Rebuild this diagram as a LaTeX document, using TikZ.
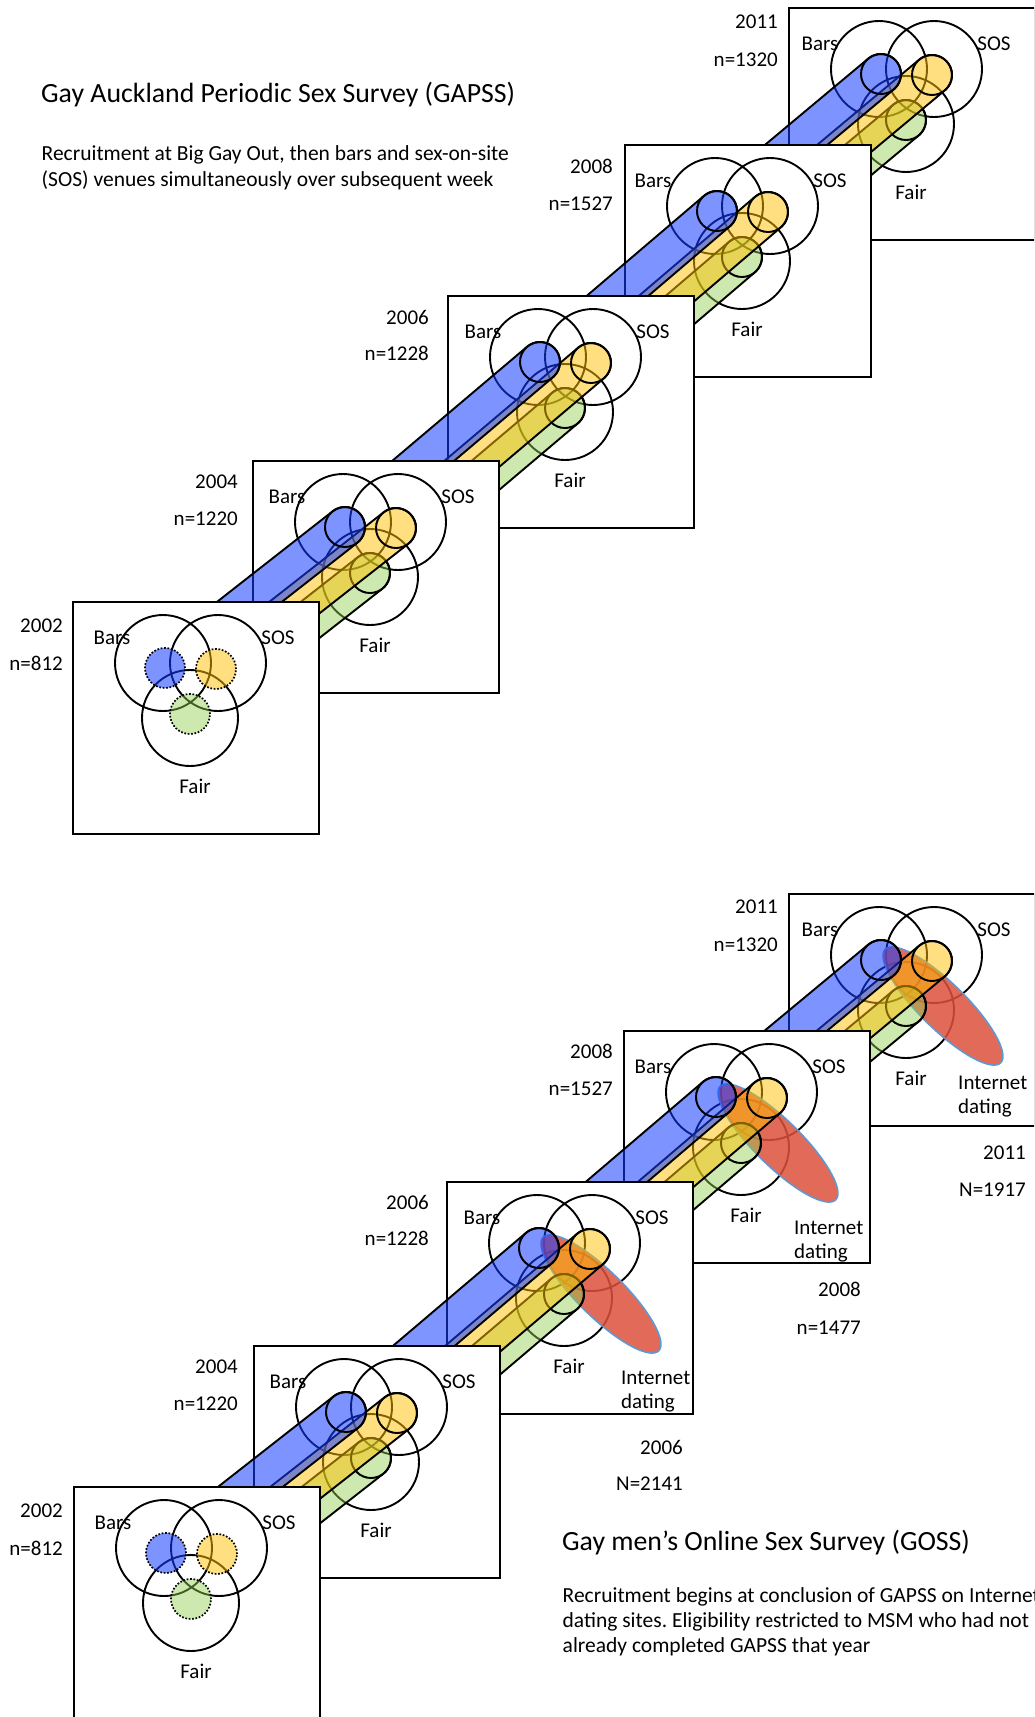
\documentclass[tikz,border=0pt]{standalone}
\usepackage{fontspec}
\setmainfont{Carlito}
\usetikzlibrary{calc}
\frenchspacing
\definecolor{bluec}{RGB}{20,60,255}
\definecolor{yelc}{RGB}{255,192,0}
\definecolor{grnc}{RGB}{146,208,80}
\definecolor{redc}{RGB}{220,80,60}
\definecolor{inetline}{RGB}{91,155,213}
\tikzset{
  boxline/.style={draw=black, line width=2.3pt, fill=white},
  venn/.style={draw=black, line width=1.9pt},
  dotc/.style={draw=black, line width=1.7pt, dash pattern=on 1.7pt off 1.7pt},
  tubeb/.style={fill=bluec, fill opacity=0.55, draw=black, line width=1.9pt},
  tubey/.style={fill=yelc, fill opacity=0.5, draw=black, line width=1.9pt},
  tubeg/.style={fill=grnc, fill opacity=0.45, draw=black, line width=1.9pt},
  inet/.style={fill=redc, fill opacity=0.85, draw=inetline, line width=1.5pt},
  lab/.style={inner sep=0pt, font=\fontsize{21}{25}\selectfont},
  ttl/.style={inner sep=0pt, anchor=base west, font=\fontsize{27.8}{33}\selectfont},
  bdy/.style={inner sep=0pt, anchor=base west, font=\fontsize{21.5}{25}\selectfont},
}
\newcommand\mkco[3]{%
  \coordinate (#1b) at (#2+92,#3+66);
  \coordinate (#1o) at (#2+143,#3+67);
  \coordinate (#1g) at (#2+117,#3+112);
}
% #5: 0 plain, 1 with internet ellipse, 2 filled dotted circles (first year)
\newcommand\yrbox[5]{%
  \begin{scope}[shift={(#2,#3)}]
    \path[boxline] (0,0) rectangle (246,232);
    \draw[venn] (90,61) circle[radius=48pt] (145,61) circle[radius=48pt] (117,116) circle[radius=48pt];
    \ifnum#5=1
      \draw[inet, rotate around={-44.5:(154,112)}] (154,112) ellipse[x radius=81pt, y radius=23pt];
    \fi
    \ifnum#5=2
      \draw[dotc, fill=bluec, fill opacity=.55] (92,66) circle[radius=20pt];
      \draw[dotc, fill=yelc, fill opacity=.5] (143,67) circle[radius=20pt];
      \draw[dotc, fill=grnc, fill opacity=.45] (117,112) circle[radius=20pt];
    \else
      \draw[dotc] (92,66) circle[radius=20pt] (143,67) circle[radius=20pt] (117,112) circle[radius=20pt];
    \fi
    \node[lab, anchor=base] (#1bars) at (#4,42) {Bars};
    \node[lab, anchor=base] (#1sos) at (205,42) {SOS};
    \node[lab, anchor=base] (#1fair) at (122,191) {Fair};
  \end{scope}}
\newcommand\tube[3]{%
  \path[#1] let \p1=(#2), \p2=(#3), \n1={atan2(\y2-\y1,\x2-\x1)} in
    ($(#2)+(\n1+90:20pt)$) -- ($(#3)+(\n1+90:20pt)$)
    arc[start angle=\n1+90, end angle=\n1-90, radius=20pt]
    -- ($(#2)+(\n1-90:20pt)$)
    arc[start angle=\n1-90, end angle=\n1-270, radius=20pt] -- cycle;
  \draw[venn] (#3) circle[radius=20pt];
}
\newcommand\tubeset[2]{\tube{tubeg}{#1g}{#2g}\tube{tubey}{#1o}{#2o}\tube{tubeb}{#1b}{#2b}}
\begin{document}
\begin{tikzpicture}[x=1pt,y=-1pt]
\useasboundingbox (0,0) rectangle (1034,1717);
\clip (0,0) rectangle (1034,1717);
% coordinates
\mkco{T02}{73}{602}\mkco{T04}{253}{461}\mkco{T06}{448}{296}\mkco{T08}{625}{145}\mkco{T11}{789}{8}
\mkco{B02}{74}{1487}\mkco{B04}{254}{1346}\mkco{B06}{447}{1182}\mkco{B08}{624}{1031}\mkco{B11}{789}{894}
% ---------- top half (GAPSS)
\yrbox{T11}{789}{8}{31}{0}
\tubeset{T08}{T11}
\yrbox{T08}{625}{145}{28}{0}
\tubeset{T06}{T08}
\yrbox{T06}{448}{296}{35}{0}
\tubeset{T04}{T06}
\yrbox{T04}{253}{461}{34}{0}
\tubeset{T02}{T04}
\yrbox{T02}{73}{602}{39}{2}
\node[lab, anchor=base east] (T02yr) at (63,632) {2002};
\node[lab, anchor=base east] (T02n) at (63,670) {n=812};
\node[lab, anchor=base east] (T04yr) at (238,488) {2004};
\node[lab, anchor=base east] (T04n) at (238,525) {n=1220};
\node[lab, anchor=base east] (T06yr) at (429,324) {2006};
\node[lab, anchor=base east] (T06n) at (429,360) {n=1228};
\node[lab, anchor=base east] (T08yr) at (613,173) {2008};
\node[lab, anchor=base east] (T08n) at (613,210) {n=1527};
\node[lab, anchor=base east] (T11yr) at (778,28) {2011};
\node[lab, anchor=base east] (T11n) at (778,66) {n=1320};
\node[ttl] (gapss) at (41,102.5) {Gay Auckland Periodic Sex Survey (GAPSS)};
\node[bdy] (gapss1) at (41.5,160.5) {Recruitment at Big Gay Out, then bars and sex-on-site};
\node[bdy] (gapss2) at (41.5,186) {(SOS) venues simultaneously over subsequent week};
% ---------- bottom half (GOSS)
\yrbox{B11}{789}{894}{31}{1}
\tubeset{B08}{B11}
\yrbox{B08}{624}{1031}{29}{1}
\tubeset{B06}{B08}
\yrbox{B06}{447}{1182}{35}{1}
\tubeset{B04}{B06}
\yrbox{B04}{254}{1346}{34}{0}
\tubeset{B02}{B04}
\yrbox{B02}{74}{1487}{39}{2}
\node[lab, anchor=base east] (B02yr) at (63,1517) {2002};
\node[lab, anchor=base east] (B02n) at (63,1555) {n=812};
\node[lab, anchor=base east] (B04yr) at (238,1373) {2004};
\node[lab, anchor=base east] (B04n) at (238,1410) {n=1220};
\node[lab, anchor=base east] (B06yr) at (429,1209) {2006};
\node[lab, anchor=base east] (B06n) at (429,1245) {n=1228};
\node[lab, anchor=base east] (B08yr) at (613,1058) {2008};
\node[lab, anchor=base east] (B08n) at (613,1095) {n=1527};
\node[lab, anchor=base east] (B11yr) at (778,913) {2011};
\node[lab, anchor=base east] (B11n) at (778,951) {n=1320};
\node[lab, anchor=base west] (B06i1) at (621,1384) {Internet};
\node[lab, anchor=base west] (B06i2) at (621,1408) {dating};
\node[lab, anchor=base west] (B08i1) at (794,1234) {Internet};
\node[lab, anchor=base west] (B08i2) at (794,1258) {dating};
\node[lab, anchor=base west] (B11i1) at (958,1089) {Internet};
\node[lab, anchor=base west] (B11i2) at (958,1113) {dating};
\node[lab, anchor=base east] (G06yr) at (683,1454) {2006};
\node[lab, anchor=base east] (G06n) at (683,1490) {N=2141};
\node[lab, anchor=base east] (G08yr) at (861,1296) {2008};
\node[lab, anchor=base east] (G08n) at (861,1334) {n=1477};
\node[lab, anchor=base east] (G11yr) at (1026,1159) {2011};
\node[lab, anchor=base east] (G11n) at (1026,1196) {N=1917};
\node[ttl] (goss) at (562,1550) {Gay men’s Online Sex Survey (GOSS)};
\node[bdy] (goss1) at (562.5,1602) {Recruitment begins at conclusion of GAPSS on Internet};
\node[bdy] (goss2) at (562.5,1627) {dating sites. Eligibility restricted to MSM who had not};
\node[bdy] (goss3) at (562.5,1652) {already completed GAPSS that year};
\end{tikzpicture}
\end{document}
